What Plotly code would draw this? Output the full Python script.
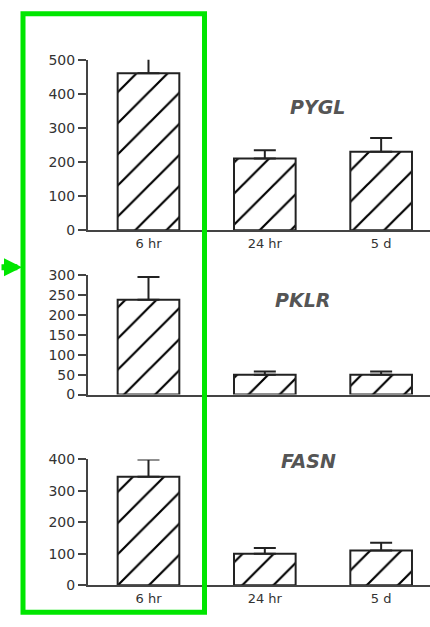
import plotly.graph_objects as go

categories = ["6 hr", "24 hr", "5 d"]
genes = ["PYGL", "PKLR", "FASN"]
pygl_values = [460, 210, 230]
pygl_errors = [50, 24, 40]
pklr_values = [238, 50, 50]
pklr_errors = [57, 8, 8]
fasn_values = [345, 100, 110]
fasn_errors = [55, 18, 25]
y_ranges = [[0, 500], [0, 300], [0, 400]]
y_ticks = [[0, 100, 200, 300, 400, 500],
           [0, 50, 100, 150, 200, 250, 300],
           [0, 100, 200, 300, 400]]

W, H = 430, 627
INK = "#222222"
AXIS = "#444444"
GREEN = "#00e600"
FONT = "DejaVu Sans"

def py(px):
    return 1 - px / H

panels = [
    (pygl_values, pygl_errors, (py(228), py(53)), True, (347, 88)),
    (pklr_values, pklr_errors, (py(396.7), py(274)), False, (332, 300)),
    (fasn_values, fasn_errors, (py(592.3), py(463.3)), True, (338, 478)),
]

fig = go.Figure()
layout = dict(
    width=W, height=H, margin=dict(l=0, r=0, t=0, b=0),
    paper_bgcolor="white", plot_bgcolor="white", showlegend=False,
)
annotations = []
for i, (vals, errs, dom, show_x, lab) in enumerate(panels):
    n = "" if i == 0 else str(i + 1)
    fig.add_trace(go.Bar(
        x=list(range(len(categories))), y=vals,
        xaxis="x" + n, yaxis="y" + n,
        width=0.53,
        marker=dict(color="white", line=dict(color=INK, width=2),
                    pattern=dict(shape="/", size=22, solidity=0.1,
                                 fgcolor="#000000", fgopacity=1,
                                 bgcolor="white")),
        error_y=dict(type="data", array=errs, arrayminus=[0] * len(errs),
                     symmetric=False, color=INK, thickness=2, width=11),
    ))
    layout["xaxis" + n] = dict(
        domain=[88 / W, 1.0], range=[-0.52, 2.42], anchor="y" + n,
        tickmode="array", tickvals=list(range(len(categories))),
        ticktext=categories, showticklabels=show_x, ticks="",
        showline=True, linecolor=AXIS, linewidth=2, showgrid=False,
        zeroline=False, fixedrange=True,
        tickfont=dict(family=FONT, size=13, color="#333333"),
    )
    layout["yaxis" + n] = dict(
        domain=list(dom), range=y_ranges[i], anchor="x" + n,
        tickmode="array", tickvals=y_ticks[i],
        ticks="outside", ticklen=8, tickwidth=2, tickcolor=AXIS,
        showline=True, linecolor=AXIS, linewidth=2, showgrid=False,
        zeroline=False, fixedrange=True,
        tickfont=dict(family=FONT, size=14, color="#333333"),
    )
    annotations.append(dict(
        text="<b><i>%s</i></b>" % genes[i], xref="paper", yref="paper",
        x=lab[0] / W, y=py(lab[1]), showarrow=False,
        font=dict(family=FONT, size=19, color="#555555"),
    ))

annotations.append(dict(
    x=22 / W, y=py(266), xref="paper", yref="paper",
    ax=-24, ay=0, axref="pixel", ayref="pixel",
    showarrow=True, arrowhead=2, arrowsize=0.6, arrowwidth=6,
    arrowcolor=GREEN, text="",
))
layout["annotations"] = annotations
layout["shapes"] = [dict(
    type="rect", xref="paper", yref="paper",
    x0=23 / W, x1=204.5 / W, y0=py(620), y1=py(6),
    line=dict(color=GREEN, width=5), layer="above",
)]
fig.update_layout(**layout)
fig.write_html(
    "out.html",
    config={"displayModeBar": False},
    post_script="document.body.style.margin='0';document.body.style.overflow='hidden';",
)
